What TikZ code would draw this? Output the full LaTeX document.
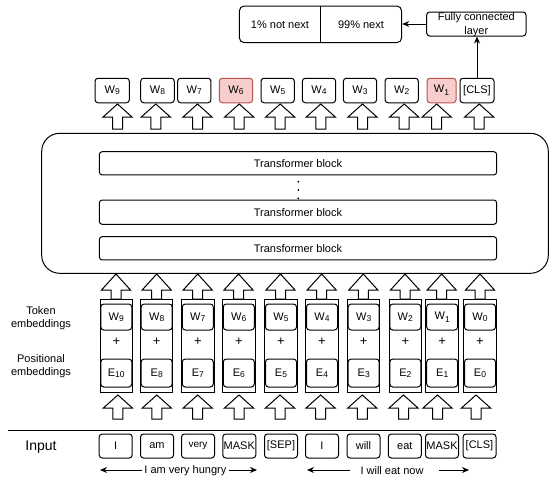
\documentclass[tikz,border=0pt]{standalone}
\usepackage{fontspec}
\setmainfont{Liberation Sans}
\usetikzlibrary{arrows.meta}
\newcommand\dg[1]{\raisebox{-1.3pt}{\fontsize{8.5}{8.5}\selectfont #1}}
\newcommand\sbd[1]{\raisebox{-3pt}{\fontsize{8.5}{8.5}\selectfont #1}}
\definecolor{redfill}{HTML}{F8CECC}
\definecolor{redline}{HTML}{B85450}
\tikzset{
  base/.style={font=\fontsize{11}{13}\selectfont, inner sep=0pt, text=black},
  rbox/.style={base, draw, rounded corners=3pt, line width=1pt},
  hl/.style={fill=redfill, draw=redline},
  barr/.style={draw, fill=white, line width=1pt, line join=miter},
  conn/.style={line width=1pt, -{Stealth[length=7pt,width=6pt]}},
  lbl/.style={base, align=center},
  colbox/.style={draw, line width=1pt, minimum width=32.5pt, minimum height=93pt, inner sep=0pt},
}
\newcommand\upblock[4]{%
  \draw[barr] (#1,#2) -- (#1+14.5,#3) -- (#1+5,#3) -- (#1+5,#4) -- (#1-5,#4) -- (#1-5,#3) -- (#1-14.5,#3) -- cycle;}
\begin{document}
\begin{tikzpicture}[x=1pt,y=-1pt]
\useasboundingbox (0,0) rectangle (550,482);

% ---- output part
\node[rbox, rounded corners=5pt, minimum width=162.4pt, minimum height=36.7pt] (out) at (320.5,24.35) {};
\draw[line width=1pt] (out.north) -- (out.south);
\node[base] (pnot) at (280,24.5) {1\% not next};
\node[base] (pnext) at (361,24.5) {99\% next};
\node[rbox, minimum width=99.3pt, minimum height=24pt] (fc) at (476.35,24) {};
\node[lbl, font=\fontsize{11}{14.4}\selectfont] (fctxt) at (476.35,24.5) {Fully connected\\layer};

% ---- top W boxes
\node[rbox, minimum width=34.3pt, minimum height=24.5pt] (t9) at (112.2,90.5) {W\dg{9}};
\node[rbox, minimum width=33.6pt, minimum height=24.5pt] (t8) at (157.5,90.5) {W\dg{8}};
\node[rbox, minimum width=33.3pt, minimum height=24.5pt] (t7) at (194.3,90.5) {W\dg{7}};
\node[rbox, hl, minimum width=33.4pt, minimum height=24.5pt] (t6) at (236,90.5) {W\dg{6}};
\node[rbox, minimum width=33.3pt, minimum height=24.5pt] (t5) at (277.7,90.5) {W\dg{5}};
\node[rbox, minimum width=33.3pt, minimum height=24.5pt] (t4) at (319,90.5) {W\dg{4}};
\node[rbox, minimum width=33.3pt, minimum height=24.5pt] (t3) at (360,90.5) {W\dg{3}};
\node[rbox, minimum width=33.3pt, minimum height=24.5pt] (t2) at (401.7,90.5) {W\dg{2}};
\node[rbox, hl, minimum width=29pt, minimum height=24.5pt] (t1) at (441.5,90.5) {W\sbd{1}};
\node[rbox, minimum width=34pt, minimum height=24.5pt] (tcls) at (477,90.5) {[CLS]};

\draw[conn] (fc.west) -- (out.east |- fc.west);
\draw[conn] (tcls.north) -- (tcls.north |- fc.south);

% ---- block arrows above transformer
\foreach \x in {117.5,155.8,197.5,239.2,280.2,320.8,362.5,404.2,436.7,479.2}
  \upblock{\x}{104}{117}{129};

% ---- transformer
\node[draw, line width=1pt, rounded corners=18pt, minimum width=506.6pt, minimum height=140pt, inner sep=0pt] (tf) at (295,203.3) {};
\node[rbox, minimum width=397.4pt, minimum height=23.3pt] (tb3) at (298,163.3) {Transformer block};
\node[rbox, minimum width=397.4pt, minimum height=24.3pt] (tb2) at (298,212.2) {Transformer block};
\node[rbox, minimum width=397.4pt, minimum height=23.3pt] (tb1) at (298,248.3) {Transformer block};
\foreach \y in {181.7,190,198.3} \fill (298.3,\y) circle (1pt);

% ---- block arrows above columns
\foreach \x in {116,156.7,197.7,238.5,280.5,321.7,363.3,405,441.7,480}
  \upblock{\x}{274}{290}{299};

% ---- embedding columns
\foreach \c/\w/\e [count=\i] in {116.3/W\dg{9}/E\dg{10}, 156.7/W\dg{8}/E\dg{8}, 197.8/W\dg{7}/E\dg{7}, 238.8/W\dg{6}/E\dg{6}, 281/W\dg{5}/E\dg{5}, 322/W\dg{4}/E\dg{4}, 363.7/W\dg{3}/E\dg{3}, 405.3/W\dg{2}/E\dg{2}, 442.2/W\sbd{1}/E\dg{1}, 480/W\dg{0}/E\dg{0}}{
  \node[colbox] (col\i) at (\c,345.5) {};
  \node[rbox, minimum width=31pt, minimum height=26pt] (cw\i) at (\c,317) {\w};
  \node[base, font=\fontsize{13}{13}\selectfont] (cp\i) at (\c,341.5) {+};
  \node[rbox, minimum width=31pt, minimum height=28pt] (ce\i) at (\c,373) {\e};
}
\node[lbl, font=\fontsize{11}{13.3}\selectfont] (tok) at (41,318.3) {Token\\embeddings};
\node[lbl, font=\fontsize{11}{13.3}\selectfont] (pos) at (41,366.5) {Positional\\embeddings};

% ---- block arrows above input
\foreach \x in {117.9,156.8,197.7,239,280,320.6,362.3,403.5,437.5,476}
  \upblock{\x}{395}{408}{419};

% ---- input row
\draw[line width=1pt] (8,430) -- (496,430);
\node[base, font=\fontsize{14}{16}\selectfont] (inp) at (41,447) {Input};
\foreach \c/\t [count=\i] in {115.7/I, 157/am, 198/{\fontsize{10}{12}\selectfont very}, 239.3/MASK, 281/[SEP], 322/I, 363.5/will, 404.8/eat, 442/MASK, 479.5/[CLS]}
  \node[rbox, minimum width=33pt, minimum height=24pt] (in\i) at (\c,446) {\t};

% ---- sentence spans
\node[base, inner sep=2pt] (s1) at (185.4,470.5) {I am very hungry};
\coordinate (s1a) at (100,470);
\coordinate (s1b) at (257,470);
\draw[conn] (s1.west |- s1a) -- (s1a);
\draw[conn] (s1.east |- s1b) -- (s1b);
\node[base] (s2) at (392,470.5) {I will eat now};
\coordinate (s2as) at (349.7,470);
\coordinate (s2ae) at (307,470);
\coordinate (s2bs) at (439,470);
\coordinate (s2be) at (469,470);
\draw[conn] (s2as) -- (s2ae);
\draw[conn] (s2bs) -- (s2be);
\end{tikzpicture}
\end{document}
